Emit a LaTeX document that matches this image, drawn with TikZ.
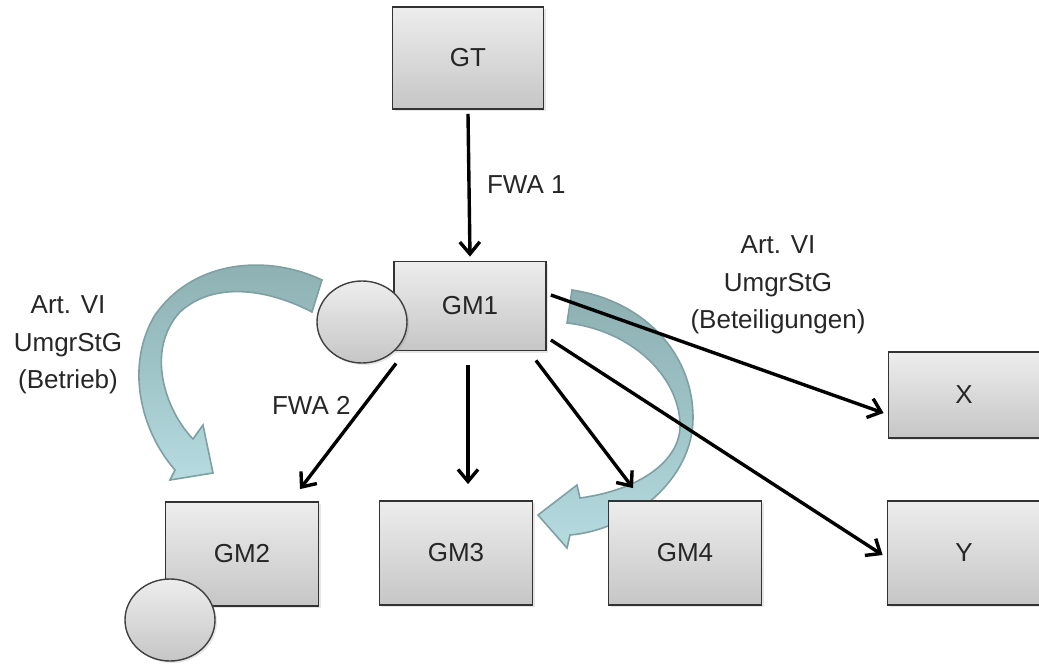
\documentclass[tikz,border=0pt]{standalone}
\usepackage{fontspec}
\setmainfont{Liberation Sans}
\usetikzlibrary{arrows.meta,shapes.geometric,shadows}
\definecolor{boxtop}{HTML}{EDEDED}
\definecolor{boxbottom}{HTML}{C6C6C6}
\definecolor{ribbondark}{HTML}{8DAFB1}
\definecolor{ribbonmid}{HTML}{9EC4C8}
\definecolor{ribbonlight}{HTML}{B6DCE1}
\definecolor{ribbonedge}{HTML}{7FA0A3}

\begin{document}
\begin{tikzpicture}[x=0.5pt, y=-0.5pt,
	font=\fontsize{13}{18.75}\selectfont, text=black!85,
	entity/.style={draw=black!80, line width=0.9pt, top color=boxtop, bottom color=boxbottom,
		minimum width=76.5pt, minimum height=52pt, inner sep=0pt,
		drop shadow={shadow xshift=1.2pt, shadow yshift=-1.2pt, opacity=0.2}},
	owner/.style={ellipse, draw=black!75, line width=0.7pt, top color=boxtop, bottom color=boxbottom,
		minimum width=45pt, minimum height=41pt, inner sep=0pt,
		drop shadow={shadow xshift=1pt, shadow yshift=-1pt, opacity=0.2}},
	flow/.style={line width=1.7pt, -{Straight Barb[length=6pt,width=10pt]}},
	ribbon/.style={draw=ribbonedge, line width=0.8pt, top color=ribbondark, bottom color=ribbonlight, middle color=ribbonmid}]
	\useasboundingbox (0,0) rectangle (1039,664);
	\clip (0,0) rectangle (1039,664);

	\path[ribbon] (322,280) .. controls (270,255) and (195,258) .. (155,315)
		.. controls (125,365) and (140,430) .. (175,470)
		-- (170,480) -- (213,473) -- (203,425) -- (193,439)
		.. controls (165,410) and (145,350) .. (180,312)
		.. controls (215,280) and (270,290) .. (312,312) -- cycle;
	\path[ribbon] (572,290) .. controls (640,300) and (693,350) .. (693,418)
		.. controls (693,480) and (630,530) .. (570,535)
		-- (567,548) -- (538,515) -- (577,485) -- (580,498)
		.. controls (640,490) and (682,460) .. (680,423)
		.. controls (678,375) and (630,330) .. (567,323) -- cycle;

	\node[entity, minimum width=75.5pt, minimum height=51pt] (gt) at (468,58) {GT};
	\node[entity, minimum width=76pt, minimum height=44.5pt] (gm1) at (470,306) {GM1};
	\node[entity] (gm2) at (242,554) {GM2};
	\node[entity] (gm3) at (456,553) {GM3};
	\node[entity] (gm4) at (685,553) {GM4};
	\node[entity, minimum width=75.5pt, minimum height=43pt] (x) at (964,395) {X};
	\node[entity] (y) at (964,553) {Y};
	\node[owner] (gm1owner) at (362,322) {};
	\node[owner] (gm2owner) at (170,620) {};

	\draw[flow] ([yshift=-2pt]gt.south) -- ([yshift=2pt]gm1.north);
	\draw[flow] ([shift={(3,12)}]gm1.south west) -- ([shift={(58,-12)}]gm2.north);
	\draw[flow] ([shift={(-2,14)}]gm1.south) -- ([shift={(12,-16)}]gm3.north);
	\draw[flow] ([shift={(-11,9)}]gm1.south east) -- ([shift={(-52,-12)}]gm4.north);
	\draw[flow] ([shift={(4,-11)}]gm1.east) -- ([shift={(-4,18)}]x.west);
	\draw[flow] ([shift={(4,34)}]gm1.east) -- ([shift={(-4,2)}]y.west);

	\node[anchor=west] (fwa1) at (480,185) {FWA 1};
	\node[anchor=west] (fwa2) at (265,405) {FWA 2};
	\node[align=center] (shares) at (778,285) {Art. VI\\UmgrStG\\(Beteiligungen)};
	\node[align=center] (business) at (68,345) {Art. VI\\UmgrStG\\(Betrieb)};
\end{tikzpicture}
\end{document}
